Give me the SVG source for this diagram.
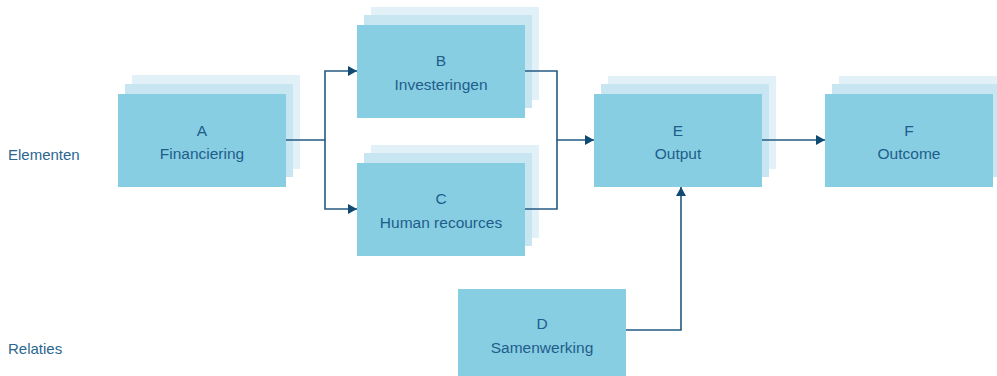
<svg xmlns="http://www.w3.org/2000/svg" width="997" height="376" viewBox="0 0 997 376">
<defs>
<style>
.f{fill:#87cee3}
.l2{fill:#c8e6f1}
.l3{fill:#e2f1f8}
.t{font-family:"Liberation Sans",Arial,sans-serif;font-size:15.5px;fill:#1f5d8a;text-anchor:middle}
.lab{font-family:"Liberation Sans",Arial,sans-serif;font-size:15px;fill:#2a6690}
.c{fill:none;stroke:#245a82;stroke-width:1.6}
</style>
<marker id="ah" markerUnits="userSpaceOnUse" markerWidth="10" markerHeight="11" refX="9" refY="5" orient="auto" viewBox="0 0 10 10">
<path d="M0,0 L9,5 L0,10 Z" fill="#0f4a73"/>
</marker>
</defs>
<rect width="997" height="376" fill="#ffffff"/>
<text class="lab" x="8" y="160">Elementen</text>
<text class="lab" x="8" y="354">Relaties</text>
<g id="nodeA">
<rect class="l3" x="132" y="75" width="168" height="94"/>
<rect class="l2" x="125" y="84" width="168" height="93"/>
<rect class="f" x="118" y="94" width="168" height="93"/>
<text class="t" x="202" y="135.5">A</text>
<text class="t" x="202" y="159">Financiering</text>
</g>
<g id="nodeB">
<rect class="l3" x="371" y="7" width="168" height="93"/>
<rect class="l2" x="364" y="15" width="168" height="93"/>
<rect class="f" x="357" y="25" width="168" height="93"/>
<text class="t" x="441" y="66">B</text>
<text class="t" x="441" y="90">Investeringen</text>
</g>
<g id="nodeC">
<rect class="l3" x="371" y="145" width="168" height="93"/>
<rect class="l2" x="364" y="153" width="168" height="93"/>
<rect class="f" x="357" y="163" width="168" height="93"/>
<text class="t" x="441" y="204">C</text>
<text class="t" x="441" y="228">Human recources</text>
</g>
<g id="nodeD">
<rect class="f" x="458" y="289" width="168" height="93"/>
<text class="t" x="542" y="329">D</text>
<text class="t" x="542" y="353">Samenwerking</text>
</g>
<g id="nodeE">
<rect class="l3" x="608" y="76" width="168" height="93"/>
<rect class="l2" x="601" y="84" width="168" height="93"/>
<rect class="f" x="594" y="94" width="168" height="93"/>
<text class="t" x="678" y="135.5">E</text>
<text class="t" x="678" y="159">Output</text>
</g>
<g id="nodeF">
<rect class="l3" x="839" y="76" width="168" height="93"/>
<rect class="l2" x="832" y="84" width="168" height="93"/>
<rect class="f" x="825" y="94" width="168" height="93"/>
<text class="t" x="909" y="135.5">F</text>
<text class="t" x="909" y="159">Outcome</text>
</g>
<g id="connectors">
<path class="c" d="M286,140 H325 V71 H357" marker-end="url(#ah)"/>
<path class="c" d="M325,140 V209 H357" marker-end="url(#ah)"/>
<path class="c" d="M525,71 H557 V140 H594" marker-end="url(#ah)"/>
<path class="c" d="M525,209 H557 V140"/>
<path class="c" d="M762,140 H825" marker-end="url(#ah)"/>
<path class="c" d="M626,330 H681 V187" marker-end="url(#ah)"/>
</g>
</svg>
